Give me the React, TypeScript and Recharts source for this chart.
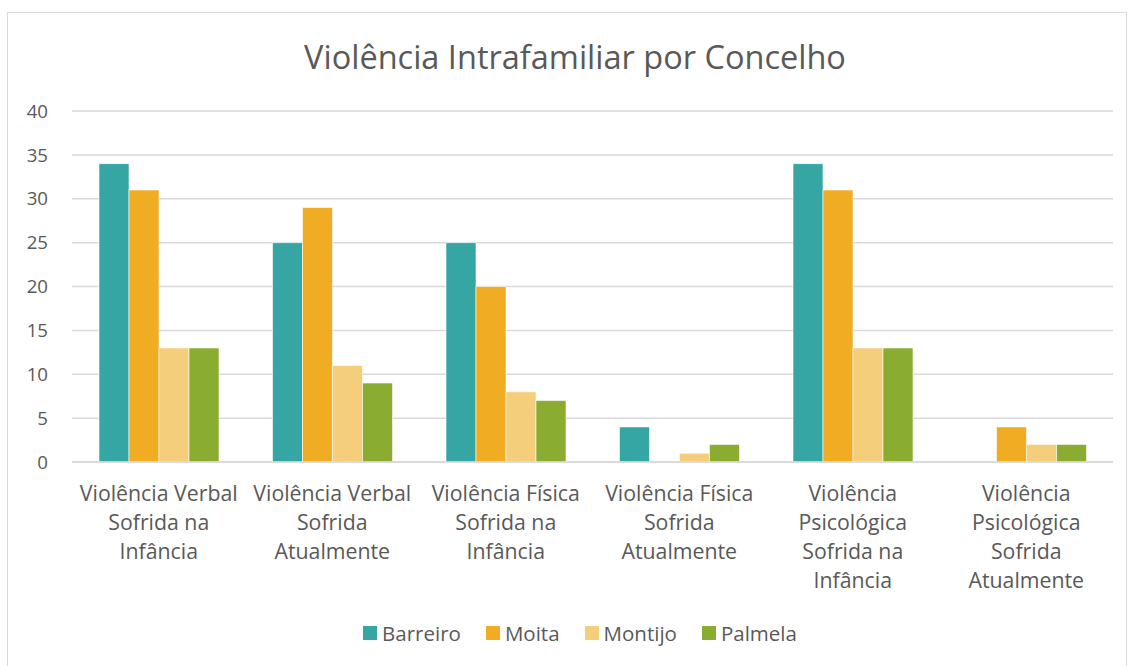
import { BarChart, Bar, XAxis, YAxis, CartesianGrid, Legend } from 'recharts';

const categories = [
  'Violência Verbal\nSofrida na\nInfância',
  'Violência Verbal\nSofrida\nAtualmente',
  'Violência Física\nSofrida na\nInfância',
  'Violência Física\nSofrida\nAtualmente',
  'Violência\nPsicológica\nSofrida na\nInfância',
  'Violência\nPsicológica\nSofrida\nAtualmente',
];

const barreiro = [34, 25, 25, 4, 34, 0];
const moita = [31, 29, 20, 0, 31, 4];
const montijo = [13, 11, 8, 1, 13, 2];
const palmela = [13, 9, 7, 2, 13, 2];

const yTicks = [0, 5, 10, 15, 20, 25, 30, 35, 40];

const seriesNames = ['Barreiro', 'Moita', 'Montijo', 'Palmela'];
const seriesColors = ['#35a6a3', '#f0ac22', '#f4ce7a', '#8aac31'];

const data = categories.map((name, i) => ({
  name,
  Barreiro: barreiro[i],
  Moita: moita[i],
  Montijo: montijo[i],
  Palmela: palmela[i],
}));

const FONT = '"Open Sans", sans-serif';
const TEXT = '#595959';

const CategoryTick = (props: any) => {
  const { x, y, payload } = props;
  const lines = String(payload.value).split('\n');
  return (
    <text x={x} y={y + 31} textAnchor="middle" fill={TEXT} fontSize={21.3} fontFamily={FONT}>
      {lines.map((line, i) => (
        <tspan key={i} x={x} dy={i === 0 ? 0 : 29}>
          {line}
        </tspan>
      ))}
    </text>
  );
};

const LegendContent = () => (
  <div style={{ display: 'flex', justifyContent: 'center', fontFamily: FONT, fontSize: 20.5, color: TEXT }}>
    {seriesNames.map((name, i) => (
      <div key={name} style={{ display: 'flex', alignItems: 'center', marginRight: i < seriesNames.length - 1 ? 25 : 0 }}>
        <span style={{ width: 14, height: 14, background: seriesColors[i], marginRight: 5, display: 'inline-block' }} />
        <span>{name}</span>
      </div>
    ))}
  </div>
);

export default function App() {
  return (
    <div style={{ position: 'absolute', left: 0, top: 0, width: 1131, height: 666, background: '#fff' }}>
      <div
        style={{
          position: 'absolute',
          left: 7,
          top: 12,
          width: 1120,
          height: 660,
          border: '1px solid #d9d9d9',
          boxSizing: 'border-box',
        }}
      />
      <div
        style={{
          position: 'absolute',
          left: 0,
          top: 35,
          width: 1150,
          textAlign: 'center',
          fontFamily: FONT,
          fontSize: 32.5,
          lineHeight: '44px',
          color: TEXT,
        }}
      >
        Violência Intrafamiliar por Concelho
      </div>
      <div style={{ position: 'absolute', left: 0, top: 0 }}>
        <BarChart
          width={1131}
          height={666}
          data={data}
          margin={{ top: 111, right: 18, bottom: 36, left: 0 }}
          barCategoryGap={27}
          barGap={0}
        >
          <CartesianGrid vertical={false} stroke="#d9d9d9" strokeWidth={1.5} />
          <XAxis
            dataKey="name"
            axisLine={{ stroke: '#d9d9d9', strokeWidth: 1.5 }}
            tickLine={false}
            height={140}
            interval={0}
            tick={<CategoryTick />}
          />
          <YAxis
            width={72}
            domain={[0, 40]}
            ticks={yTicks}
            axisLine={false}
            tickLine={false}
            tickSize={0}
            tickMargin={24}
            tick={{ fill: TEXT, fontSize: 18.7, fontFamily: FONT }}
          />
          <Legend
            content={<LegendContent />}
            wrapperStyle={{ position: 'absolute', top: 619, left: 0, width: 1160, height: 28 }}
          />
          {seriesNames.map((name, i) => (
            <Bar
              key={name}
              dataKey={name}
              fill={seriesColors[i]}
              stroke="#fff"
              strokeWidth={0.6}
              isAnimationActive={false}
            />
          ))}
        </BarChart>
      </div>
    </div>
  );
}
